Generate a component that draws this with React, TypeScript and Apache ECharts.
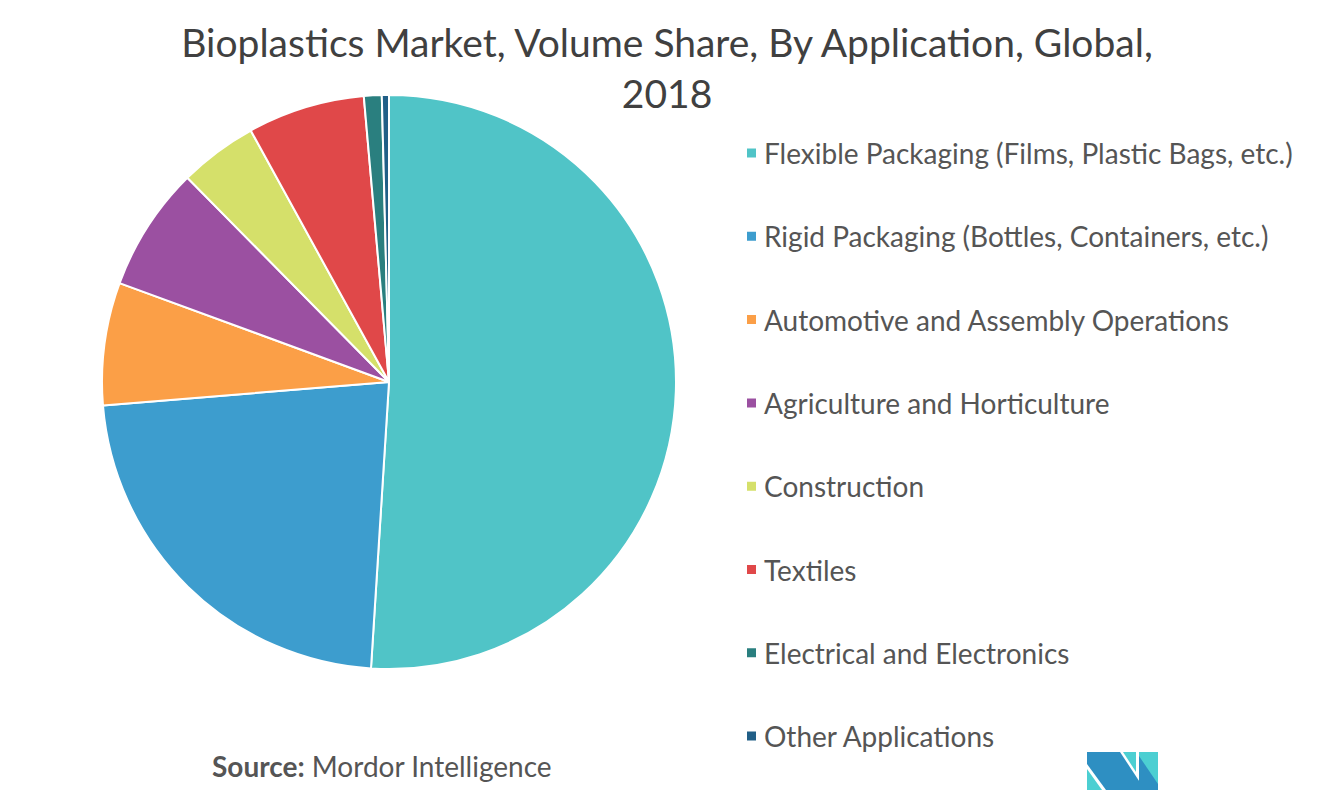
import React, { useEffect, useRef } from "react";
import * as echarts from "echarts";

const categories = [
  "Flexible Packaging (Films, Plastic Bags, etc.)",
  "Rigid Packaging (Bottles, Containers, etc.)",
  "Automotive and Assembly Operations",
  "Agriculture and Horticulture",
  "Construction",
  "Textiles",
  "Electrical and Electronics",
  "Other Applications",
];
const shares = [51.0, 22.7, 6.9, 7.0, 4.4, 6.6, 1.0, 0.4];
const colors = ["#50C4C7", "#3D9DCE", "#FB9F47", "#9B50A1", "#D5E06A", "#E04849", "#2A7F7F", "#215F87"];
const titleLines = ["Bioplastics Market, Volume Share, By Application, Global,", "2018"];
const sourceLabel = "Source:";
const sourceName = " Mordor Intelligence";

export default function App() {
  const ref = useRef<HTMLDivElement>(null);
  useEffect(() => {
    if (!ref.current) return;
    const chart = echarts.init(ref.current, null, { renderer: "svg" });
    chart.setOption({
      animation: false,
      backgroundColor: "#ffffff",
      title: {
        text: titleLines.join("\n"),
        left: 662,
        top: 11,
        textAlign: "center",
        textStyle: {
          fontFamily: "Lato",
          fontWeight: "normal",
          fontSize: 39,
          lineHeight: 51,
          color: "#404040",
        },
      },
      legend: {
        orient: "vertical",
        left: 740,
        top: 134,
        icon: "rect",
        itemWidth: 11,
        itemHeight: 11,
        itemGap: 55.3,
        textStyle: {
          fontFamily: "Lato",
          fontSize: 28,
          lineHeight: 28,
          color: "#555555",
          padding: [0, 0, 0, 2],
        },
        data: categories,
      },
      series: [
        {
          type: "pie",
          center: [389, 382],
          radius: 287,
          startAngle: 90,
          clockwise: true,
          label: { show: false },
          labelLine: { show: false },
          itemStyle: { borderColor: "#ffffff", borderWidth: 2 },
          emphasis: { disabled: true },
          data: categories.map((name, i) => ({
            name,
            value: shares[i],
            itemStyle: { color: colors[i] },
          })),
        },
      ],
      graphic: [
        {
          type: "text",
          left: 212,
          top: 752,
          style: {
            text: "{b|" + sourceLabel + "}{n|" + sourceName + "}",
            rich: {
              b: { fontFamily: "Lato", fontSize: 28, fontWeight: "bold", fill: "#555555" },
              n: { fontFamily: "Lato", fontSize: 28, fill: "#555555" },
            },
          },
        },
        {
          type: "group",
          children: [
            { type: "polygon", shape: { points: [[1087, 752], [1120, 752], [1145, 790], [1106, 790], [1087, 764]] }, style: { fill: "#2E8FC2" } },
            { type: "polygon", shape: { points: [[1087, 769], [1087, 790], [1102, 790]] }, style: { fill: "#4CCFD2" } },
            { type: "polygon", shape: { points: [[1123, 752], [1136, 752], [1136, 772]] }, style: { fill: "#4CCFD2" } },
            { type: "rect", shape: { x: 1139, y: 752, width: 19, height: 38 }, style: { fill: "#4CCFD2" } },
            { type: "polygon", shape: { points: [[1139, 756], [1158, 784], [1158, 790], [1139, 790]] }, style: { fill: "#2E8FC2" } },
          ],
        },
      ],
    });
    return () => chart.dispose();
  }, []);
  return (
    <div
      ref={ref}
      style={{ position: "fixed", left: 0, top: 0, width: 1321, height: 803 }}
    />
  );
}
